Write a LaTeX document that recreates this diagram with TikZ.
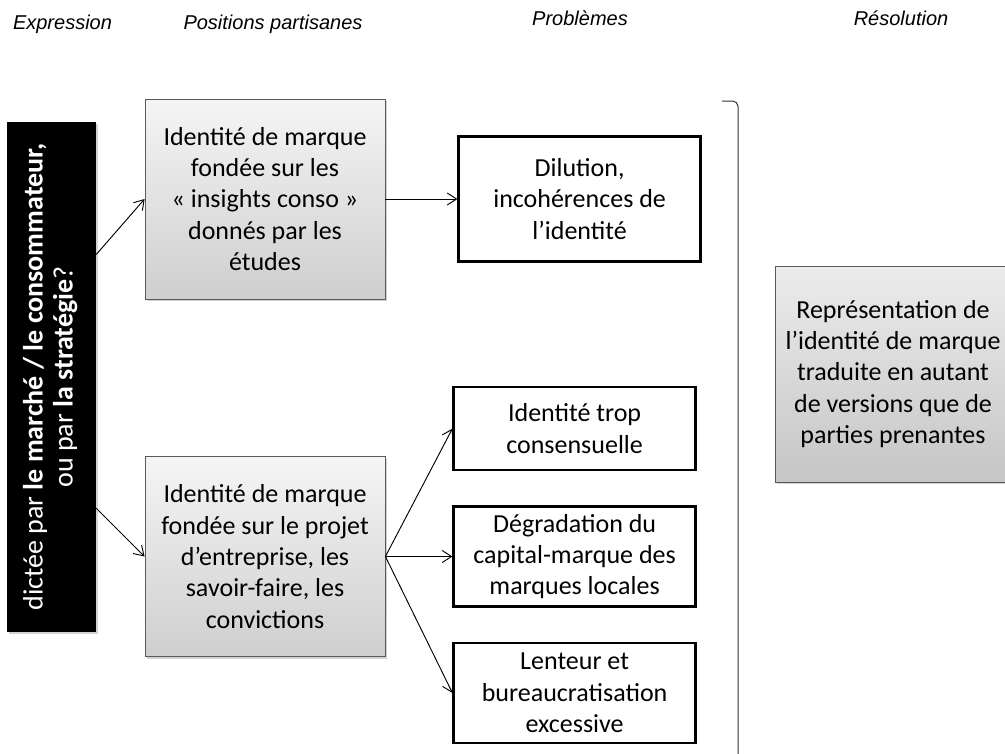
\documentclass[tikz,border=0pt]{standalone}
\usepackage{fontspec}
\setmainfont{Carlito}
\newfontfamily\headfont{Liberation Sans}
\usepackage{graphicx}
\usepackage{tikz}
\usetikzlibrary{positioning, shadows, calc, arrows.meta}

\begin{document}
\begin{tikzpicture}[
  x=0.75pt, y=-0.75pt,
  font=\fontsize{19.5}{23.5}\selectfont,
  node distance=25.5pt,
  head/.style={anchor=base, font=\headfont\itshape\fontsize{15}{18}\selectfont},
  box/.style={align=center, inner sep=0pt},
  partisan/.style={
    box, draw=black!65, line width=0.6pt,
    top color=gray!8, bottom color=gray!38,
    minimum width=180pt, minimum height=150pt,
    drop shadow={shadow xshift=1.5pt, shadow yshift=-1.5pt, opacity=0.35}
  },
  probleme/.style={box, draw, line width=1.8pt, fill=white,
    minimum width=181.5pt, minimum height=75pt},
  expression/.style={box, fill=black, text=white,
    minimum width=66.75pt, minimum height=382.5pt,
    drop shadow={shadow xshift=1.5pt, shadow yshift=-1.5pt, opacity=0.35}},
  resolution/.style={partisan, top color=gray!15, bottom color=gray!45,
    minimum width=177pt, minimum height=162pt},
  arrow/.style={-{Straight Barb[length=7pt,width=9pt]}, line width=0.7pt}
]
\useasboundingbox (0,0) rectangle (1005,753);

% column titles
\node[head] (hexpr) at (62.5,29) {Expression};
\node[head] (hpos) at (273,29) {Positions partisanes};
\node[head] (hprob) at (580,25) {Problèmes};
\node[head] (hres) at (901,25) {Résolution};

\node[expression] (expr) at (51.5,377) {\rotatebox{90}{\fontsize{21}{22.5}\selectfont
  \begin{tabular}{@{}c@{}}dictée par \textbf{le marché / le consommateur,}\\
  ou par \textbf{la stratégie}?\end{tabular}}};

\node[partisan] (pos1) at (265,199) {Identité de marque\\fondée sur les\\
« insights conso »\\donnés par les\\études};
\node[partisan] (pos2) at (265,556.5) {Identité de marque\\fondée sur le projet\\
d’entreprise, les\\savoir-faire, les\\convictions};

\node[probleme, minimum height=93.75pt, right=54pt of pos1] (prob1) {Dilution,\\
incohérences de\\l’identité};
\node[probleme, right=50.25pt of pos2] (prob3) {Dégradation du\\
capital-marque des\\marques locales};
\node[probleme, minimum height=62.25pt, above=of prob3] (prob2) {Identité trop\\
consensuelle};
\node[probleme, below=of prob3] (prob4) {Lenteur et\\bureaucratisation\\excessive};

\node[resolution] (res) at (893,374) {Représentation de\\l’identité de marque\\
traduite en autant\\de versions que de\\parties prenantes};

\draw[arrow] ($(expr.north east)!0.26!(expr.south east)$) -- (pos1.west);
\draw[arrow] ($(expr.north east)!0.757!(expr.south east)$) -- (pos2.west);
\draw[arrow] (pos1.east) -- (prob1.west);
\foreach \p in {prob2,prob3,prob4}
  \draw[arrow] (pos2.east) -- (\p.west);

% separator
\draw[line width=0.75pt, black!80, rounded corners=4pt] (722,101) -| (738,760);
\end{tikzpicture}
\end{document}
